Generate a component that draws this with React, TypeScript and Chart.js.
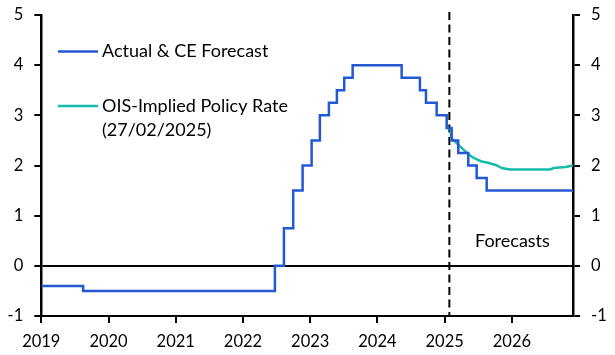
import React, { useEffect, useRef } from 'react';
import { Chart, registerables } from 'chart.js';

Chart.register(...registerables);

// x positions are decimal years
const yearTicks = [2019, 2020, 2021, 2022, 2023, 2024, 2025, 2026];
const yTicks = [-1, 0, 1, 2, 3, 4, 5];
const xMin = 2019.0;
const xMax = 2026.909;

const actualDates = [
  2019.0, 2019.622, 2022.475, 2022.609, 2022.747, 2022.887, 2023.021, 2023.144,
  2023.278, 2023.397, 2023.506, 2023.631, 2024.36, 2024.632, 2024.722, 2024.881,
  2025.03, 2025.104, 2025.202, 2025.351, 2025.476, 2025.625, 2026.909,
];
const actualRates = [
  -0.4, -0.5, 0, 0.75, 1.5, 2.0, 2.5, 3.0,
  3.25, 3.5, 3.75, 4.0, 3.75, 3.5, 3.25, 3.0,
  2.75, 2.5, 2.25, 2.0, 1.75, 1.5, 1.5,
];

const oisDates = [
  2025.085, 2025.1, 2025.16, 2025.22, 2025.3, 2025.35, 2025.42, 2025.48, 2025.55,
  2025.63, 2025.76, 2025.85, 2025.97, 2026.3, 2026.57, 2026.62, 2026.8, 2026.909,
];
const oisRates = [
  2.75, 2.54, 2.47, 2.39, 2.29, 2.23, 2.16, 2.12, 2.08,
  2.06, 2.01, 1.95, 1.92, 1.92, 1.92, 1.95, 1.97, 2.0,
];

const forecastStart = 2025.07;

const legendActual = 'Actual & CE Forecast';
const legendOis = ['OIS-Implied Policy Rate', '(27/02/2025)'];
const forecastLabel = 'Forecasts';

const BLUE = '#2358D2';
const TEAL = '#17BBA9';
const FONT_FAMILY = 'Lato, "Open Sans", sans-serif';
const TICK_SIZE = 16.5;
const TEXT_SIZE = 18;

export default function App() {
  const ref = useRef<HTMLCanvasElement>(null);

  useEffect(() => {
    document.body.style.margin = '0';
    const canvas = ref.current;
    if (!canvas) return;

    const overlay = {
      id: 'overlay',
      beforeDatasetsDraw(chart: any) {
        const { ctx, chartArea, scales } = chart;
        const x = scales.x.getPixelForValue(forecastStart);
        ctx.save();
        ctx.strokeStyle = '#000';
        ctx.lineWidth = 2;
        ctx.setLineDash([8, 4.5]);
        ctx.beginPath();
        ctx.moveTo(x, chartArea.top - 3);
        ctx.lineTo(x, chartArea.bottom);
        ctx.stroke();
        ctx.restore();
      },
      afterDraw(chart: any) {
        const { ctx } = chart;
        ctx.save();
        ctx.font = `${TEXT_SIZE}px ${FONT_FAMILY}`;
        ctx.fillStyle = '#000';
        ctx.textBaseline = 'middle';
        ctx.textAlign = 'left';
        ctx.lineWidth = 2.5;
        ctx.strokeStyle = BLUE;
        ctx.beginPath();
        ctx.moveTo(58, 51.5);
        ctx.lineTo(98, 51.5);
        ctx.stroke();
        ctx.fillText(legendActual, 102, 51.5);
        ctx.strokeStyle = TEAL;
        ctx.beginPath();
        ctx.moveTo(58, 106);
        ctx.lineTo(98, 106);
        ctx.stroke();
        ctx.fillText(legendOis[0], 102, 106);
        ctx.fillText(legendOis[1], 102, 130);
        ctx.fillText(forecastLabel, 475, 241);
        ctx.restore();
      },
    };

    const tickFont = { family: FONT_FAMILY, size: TICK_SIZE };
    const fitY = (w: number) => (s: any) => {
      s.width = w;
      s.paddingTop = 0;
      s.paddingBottom = 0;
    };

    const chart = new Chart(canvas, {
      type: 'line',
      data: {
        datasets: [
          {
            label: legendActual,
            data: actualDates.map((d, i) => ({ x: d, y: actualRates[i] })),
            borderColor: BLUE,
            borderWidth: 2.5,
            pointRadius: 0,
            stepped: 'before',
            fill: false,
          },
          {
            label: legendOis.join(' '),
            data: oisDates.map((d, i) => ({ x: d, y: oisRates[i] })),
            borderColor: TEAL,
            borderWidth: 2.5,
            pointRadius: 0,
            tension: 0,
            fill: false,
          },
        ],
      },
      options: {
        responsive: false,
        animation: false,
        layout: { padding: { top: 15, left: 0, right: 0, bottom: 0 } },
        plugins: { legend: { display: false }, tooltip: { enabled: false } },
        scales: {
          x: {
            type: 'linear',
            min: xMin,
            max: xMax,
            afterBuildTicks: (s: any) => {
              s.ticks = yearTicks.map((v) => ({ value: v }));
            },
            afterFit: (s: any) => {
              s.height = 39;
              s.paddingLeft = 0;
              s.paddingRight = 0;
            },
            ticks: {
              callback: (v: any) => String(v),
              font: tickFont,
              color: '#000',
              padding: 9,
              maxRotation: 0,
              autoSkip: false,
            },
            grid: {
              drawOnChartArea: false,
              color: '#000',
              lineWidth: 2,
              tickLength: 7,
            },
            border: { display: true, color: '#000', width: 2 },
          },
          y: {
            type: 'linear',
            position: 'left',
            min: -1,
            max: 5,
            afterBuildTicks: (s: any) => {
              s.ticks = yTicks.map((v) => ({ value: v }));
            },
            afterFit: fitY(41.3),
            ticks: {
              callback: (v: any) => String(v),
              font: tickFont,
              color: '#000',
              padding: 11,
            },
            grid: {
              color: (c: any) => (c.tick && c.tick.value === 0 ? '#000' : 'rgba(0,0,0,0)'),
              tickColor: '#000',
              lineWidth: 2,
              tickLength: 7,
            },
            border: { display: true, color: '#000', width: 2.5 },
          },
          y2: {
            type: 'linear',
            position: 'right',
            min: -1,
            max: 5,
            afterBuildTicks: (s: any) => {
              s.ticks = yTicks.map((v) => ({ value: v }));
            },
            afterFit: fitY(42),
            ticks: {
              callback: (v: any) => String(v),
              font: tickFont,
              color: '#000',
              padding: 11,
            },
            grid: {
              drawOnChartArea: false,
              color: '#000',
              lineWidth: 2,
              tickLength: 7,
            },
            border: { display: true, color: '#000', width: 2.5 },
          },
        },
      },
      plugins: [overlay],
    } as any);

    return () => chart.destroy();
  }, []);

  return (
    <div style={{ width: 615, height: 355 }}>
      <canvas ref={ref} width={615} height={355} style={{ display: 'block' }} />
    </div>
  );
}
